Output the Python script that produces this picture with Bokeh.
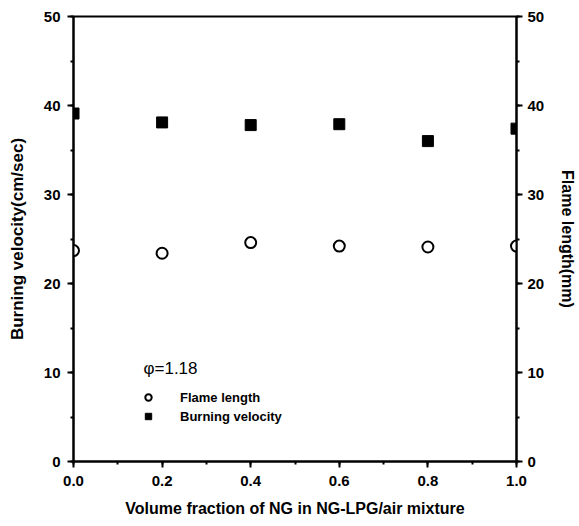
from bokeh.plotting import figure
from bokeh.models import (Range1d, LinearAxis, Legend, LegendItem, Label,
                          SingleIntervalTicker, ColumnDataSource, NumeralTickFormatter)
from bokeh.embed import file_html
from bokeh.resources import INLINE

# Data
ng_fraction = [0.0, 0.2, 0.4, 0.6, 0.8, 1.0]
burning_velocity = [39.1, 38.1, 37.8, 37.9, 36.0, 37.4]
flame_length = [23.7, 23.4, 24.6, 24.2, 24.1, 24.2]

FONT = "Liberation Sans"

p = figure(width=579, height=522, output_backend="svg", toolbar_location=None,
           x_range=Range1d(0, 1.0), y_range=Range1d(0, 50),
           min_border_left=73, min_border_right=62, min_border_top=16,
           min_border_bottom=61)
p.extra_y_ranges = {"right": Range1d(0, 50)}
p.grid.visible = False
p.outline_line_color = "black"
p.outline_line_width = 2
p.background_fill_color = "white"

def style_axis(ax):
    ax.axis_line_width = 2
    ax.major_tick_line_width = 2
    ax.minor_tick_line_width = 2
    ax.major_tick_out = 6
    ax.major_tick_in = 0
    ax.minor_tick_out = 3
    ax.minor_tick_in = 0
    ax.major_label_text_font = FONT
    ax.major_label_text_font_style = "bold"
    ax.major_label_text_font_size = "15px"
    ax.major_label_text_color = "black"
    ax.axis_label_text_font = FONT
    ax.axis_label_text_font_style = "bold"
    ax.axis_label_text_font_size = "16px"
    ax.axis_label_text_color = "black"

xa = p.xaxis[0]
xa.ticker = SingleIntervalTicker(interval=0.2, num_minor_ticks=2)
xa.formatter = NumeralTickFormatter(format="0.0")
xa.axis_label = "Volume fraction of NG in NG-LPG/air mixture"
style_axis(xa)
xa.major_label_standoff = 8
xa.axis_label_standoff = 11

ya = p.yaxis[0]
ya.ticker = SingleIntervalTicker(interval=10, num_minor_ticks=2)
ya.axis_label = "Burning velocity(cm/sec)"
style_axis(ya)
ya.axis_label_text_font_size = "17px"
ya.major_label_standoff = 7
ya.axis_label_standoff = 14

ra = LinearAxis(y_range_name="right", axis_label="Flame length(mm)",
                ticker=SingleIntervalTicker(interval=10, num_minor_ticks=2))
style_axis(ra)
ra.major_label_standoff = 5
ra.axis_label_standoff = 12
p.add_layout(ra, "right")

src = ColumnDataSource(dict(x=ng_fraction, bv=burning_velocity, fl=flame_length))

r_fl = p.scatter("x", "fl", source=src, marker="circle", size=11,
                 fill_color="white", line_color="black", line_width=2,
                 y_range_name="right")
r_bv = p.scatter("x", "bv", source=src, marker="square", size=11,
                 fill_color="black", line_color="black")

legend = Legend(items=[LegendItem(label="Flame length", renderers=[r_fl]),
                       LegendItem(label="Burning velocity", renderers=[r_bv])],
                location=(65, 37), padding=0, margin=0, spacing=3,
                glyph_width=20, glyph_height=16, label_height=16,
                label_standoff=22, border_line_alpha=0,
                background_fill_alpha=0,
                label_text_font=FONT, label_text_font_style="bold",
                label_text_font_size="13px", label_text_color="black")
p.add_layout(legend, "center")

p.add_layout(Label(x=0.158, y=10.45, text="φ=1.18", text_font=FONT,
                   text_font_size="17px", text_baseline="middle",
                   text_color="black"))

open("out.html", "w").write(file_html(p, INLINE))
